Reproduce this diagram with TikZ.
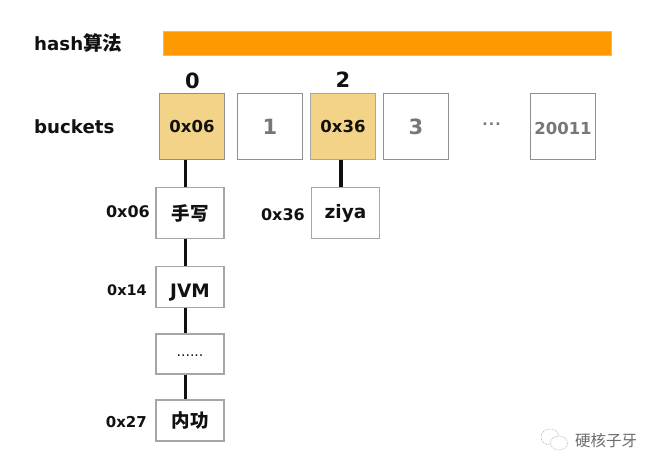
\documentclass[tikz,border=0pt]{standalone}
\usepackage{fontspec}
\setmainfont{DejaVu Sans}
\newfontfamily\cjk{Noto Sans CJK SC}[BoldFont={* Black}]
\definecolor{barfill}{HTML}{FF9900}
\definecolor{slotfill}{HTML}{F2D388}
\definecolor{edgegray}{HTML}{8F8F8F}
\definecolor{softgray}{HTML}{A6A6A6}
\definecolor{numgray}{HTML}{777777}
\definecolor{inkdark}{HTML}{111111}
\tikzset{
  x=1pt,y=-1pt,
  slot/.style={draw=edgegray,line width=1.6pt,fill=white,minimum width=65pt,minimum height=66pt,inner sep=0pt,font=\bfseries\fontsize{21}{21}\selectfont,text=numgray},
  usedslot/.style={slot,fill=slotfill,text=inkdark,font=\bfseries\fontsize{16.5}{17}\selectfont},
  listbox/.style={draw=softgray,line width=1.6pt,fill=white,minimum width=68pt,inner sep=0pt,text=inkdark,font=\bfseries\fontsize{18.5}{19}\selectfont},
  heading/.style={anchor=west,inner sep=0pt,text=inkdark,font=\bfseries\fontsize{18.2}{19}\selectfont},
  idx/.style={inner sep=0pt,text=inkdark,font=\bfseries\fontsize{21}{21}\selectfont},
  addr/.style={anchor=east,inner sep=0pt,text=inkdark,font=\bfseries\fontsize{16}{16}\selectfont},
  link/.style={line width=3.6pt,draw=inkdark},
}
\begin{document}
\begin{tikzpicture}
\useasboundingbox (0,0) rectangle (660,471);
\fill[white] (0,0) rectangle (660,471);
\node[heading] (hlabel) at (34,43) {hash{\cjk\fontsize{19.5}{20}\selectfont 算法}};
\node[draw=softgray!70,line width=1pt,fill=barfill,minimum width=448pt,minimum height=24pt,inner sep=0pt] (bar) at (387,43) {};
\node[heading] (blabel) at (34,126.5) {buckets};
\node[idx] (i0) at (192.5,80.5) {0};
\node[idx] (i2) at (343,79.5) {2};
\node[usedslot] (b0) at (192,126.5) {0x06};
\node[slot] (b1) at (270,126.5) {1};
\node[usedslot,draw=softgray] (b2) at (343,126.5) {0x36};
\node[slot] (b3) at (416,126.5) {3};
\node[inner sep=0pt,text=numgray,font=\bfseries\fontsize{14}{14}\selectfont] (more) at (491.5,124.5) {.\kern1.2pt.\kern1.2pt.};
\node[slot,font=\bfseries\fontsize{16.5}{17}\selectfont,text height=15pt,text depth=0pt] (b4) at (563,126.5) {20011};
\node[listbox,minimum height=51pt] (l1) at (190,213) {\cjk 手写};
\node[listbox,minimum height=41pt,text height=21pt,text depth=0pt] (l2) at (190,287) {JVM};
\node[listbox,minimum height=40pt,font=\fontsize{14}{14}\selectfont,text height=5pt,text depth=0pt] (l3) at (190,354) {......};
\node[listbox,minimum height=41pt] (l4) at (190,420.5) {\cjk 内功};
\node[listbox,minimum height=51pt] (z1) at (345.5,213) {ziya};
\node[addr] (a1) at (150,212) {0x06};
\node[addr,font=\bfseries\fontsize{14.5}{15}\selectfont] (a2) at (147,290) {0x14};
\node[addr,font=\bfseries\fontsize{15}{15}\selectfont] (a3) at (147,422) {0x27};
\node[addr] (a4) at (305,214.5) {0x36};
\coordinate (spineA) at (185.5,0);
\coordinate (spineB) at (341,0);
\draw[link] (b0.south -| spineA) -- (l1.north -| spineA);
\draw[link] (l1.south -| spineA) -- (l2.north -| spineA);
\draw[link] (l2.south -| spineA) -- (l3.north -| spineA);
\draw[link] (l3.south -| spineA) -- (l4.north -| spineA);
\draw[link] (b2.south -| spineB) -- (z1.north -| spineB);
% watermark
\draw[gray!60,line width=0.5pt,dash pattern=on 1pt off 0.8pt,fill=white] (550,437) ellipse [x radius=9,y radius=8];
\draw[gray!60,line width=0.5pt,dash pattern=on 1pt off 0.8pt,fill=white] (559,443) ellipse [x radius=8.5,y radius=7];
\node[inner sep=0pt,anchor=west,text=gray!85!black,font=\cjk\fontsize{15.5}{16}\selectfont] (wm) at (575,441) {硬核子牙};
\end{tikzpicture}
\end{document}
